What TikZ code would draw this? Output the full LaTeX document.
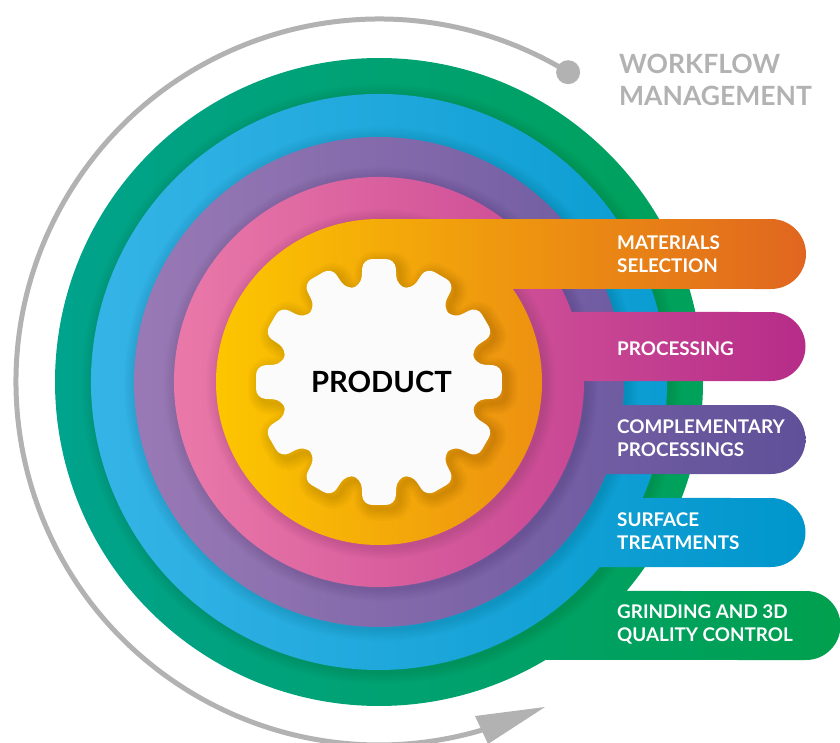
\documentclass[tikz,border=0pt]{standalone}
\usepackage{fontspec}
\setmainfont{Lato}
\usepackage{amsmath}

\definecolor{flowgray}{HTML}{B2B2B2}
\definecolor{greenL}{HTML}{00A38F}
\definecolor{greenR}{HTML}{00A04E}
\definecolor{blueL}{HTML}{38B6E8}
\definecolor{blueR}{HTML}{0096CC}
\definecolor{purpleL}{HTML}{9A7AB6}
\definecolor{purpleR}{HTML}{5F5099}
\definecolor{pinkL}{HTML}{EC7CAA}
\definecolor{pinkR}{HTML}{B62C88}
\definecolor{orangeL}{HTML}{FCC600}
\definecolor{orangeR}{HTML}{E0661F}

\tikzset{
  barlabel/.style={anchor=west,align=left,inner sep=0,text=white,font=\fontsize{18.85}{23}\selectfont\bfseries},
  flowlabel/.style={anchor=west,align=left,inner sep=0,text=flowgray,font=\fontsize{26.5}{32}\selectfont\bfseries},
  flowline/.style={draw=flowgray,line width=5pt},
}

% radius, start angle, end angle, bar end, bar bottom, bar radius
\newcommand{\bandshape}[7]{
  \shade[#1] (#3:#2) arc[start angle=#3,end angle=#4,radius=#2] -- (#5,#6) arc[start angle=270,end angle=450,radius=#7] -- cycle;
}
\newcommand{\bandshadow}[1]{
  \foreach \w in {3,6,...,24} \draw[black,opacity=.012,line width=\w pt] (2,-2) circle (#1);
}
\newcommand{\gearshape}[1]{
  \path[rounded corners=9pt,#1] (-15:98) \foreach \a in {0,30,...,330} { -- (\a-10.5:98) -- (\a-7.5:124) -- (\a+7.5:124) -- (\a+10.5:98) } -- cycle;
}

\begin{document}
\begin{tikzpicture}[x=1pt,y=1pt]

\useasboundingbox (-379,-360) rectangle (461,382);
\clip (-379,-360) rectangle (461,382);

\draw [flowline] (58.6:363) arc[start angle=58.6,end angle=286.5,radius=363];
\node [circle,fill=flowgray,minimum size=24pt,inner sep=0] (flowstart) at (58.6:363) {};
\fill [flowgray] (166,-325) -- (96,-334) -- (109,-362) -- cycle;

\bandshape{left color=greenL,right color=greenR}{324}{-40.17}{300.91}{427}{-278}{34.5}
\bandshadow{288}
\bandshape{left color=blueL,right color=blueR}{288}{-23.75}{320.01}{392}{-185}{34.5}
\bandshadow{245}
\bandshape{left color=purpleL,right color=purpleR}{245}{-5.39}{337.94}{392}{-92}{34.5}
\bandshadow{205}
\bandshape{left color=pinkL,right color=pinkR}{205}{19.97}{360.28}{392}{1}{34.5}
\bandshadow{163}
\bandshape{left color=orangeL,right color=orangeR}{163}{90}{394.8}{392}{93}{35}

\begin{scope}[shift={(4,-4)}]
\foreach \w in {3,6,...,24} {\gearshape{draw=black,opacity=.015,line width=\w pt}}
\end{scope}
\gearshape{fill=white!97!gray}

\node [font=\fontsize{29.2}{32}\selectfont\bfseries,text=black,inner sep=0] (product) at (2.5,0) {PRODUCT};

\node [barlabel] (materials) at (238,128) {MATERIALS\\SELECTION};
\node [barlabel] (processing) at (238,33) {PROCESSING};
\node [barlabel] (complementary) at (238,-56) {COMPLEMENTARY\\PROCESSINGS};
\node [barlabel] (surface) at (238,-149) {SURFACE\\TREATMENTS};
\node [barlabel] (grinding) at (238,-242) {GRINDING AND 3D\\QUALITY CONTROL};

\node [flowlabel] (workflow) at (240,302) {WORKFLOW\\MANAGEMENT};

\end{tikzpicture}
\end{document}
